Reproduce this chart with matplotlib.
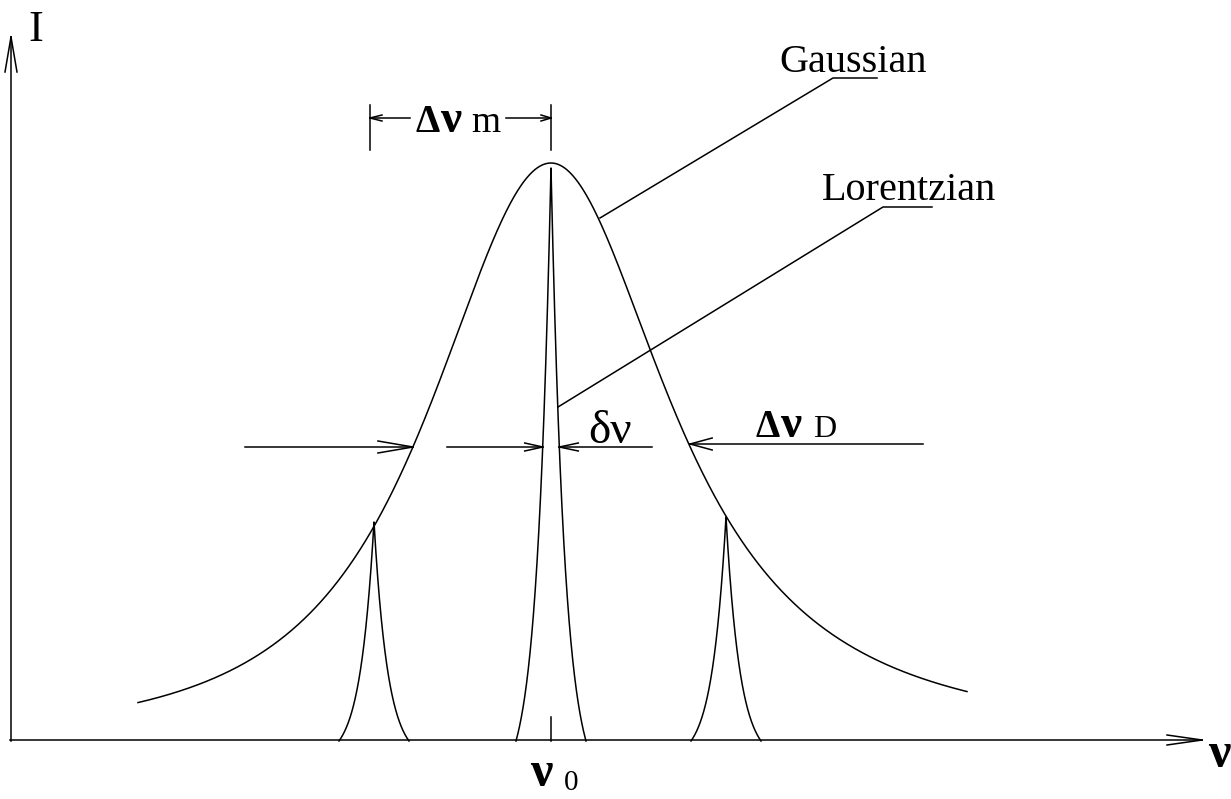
"""Line-shape sketch: Gaussian envelope with Lorentzian modes."""

import matplotlib

matplotlib.use("Agg")
import matplotlib.pyplot as plt
import numpy as np

# Frequency offsets from nu0 and heights (arbitrary units, baseline = 0)
envelope_peak = 578.0
envelope_span = (-413.0, 416.0)
# asymmetric Pearson-VII style flanks: (half-width scale, exponent)
envelope_left = (183.0, 1.5)
envelope_right = (160.0, 1.2)

mode_offsets = [-177.0, 0.0, 175.0]
mode_heights = [219.0, 573.0, 224.0]
mode_decay = 14.0
mode_foot = 35.0

half_level = 294.0
mode_spacing_ticks = [-181.0, 0.0]

SERIF = ["Liberation Serif", "DejaVu Serif"]
LW = 1.1


def envelope(x):
    g_l, m_l = envelope_left
    g_r, m_r = envelope_right
    left = (1 + (x / g_l) ** 2) ** -m_l
    right = (1 + (x / g_r) ** 2) ** -m_r
    return envelope_peak * np.where(x < 0, left, right)


def mode_profile(x, height):
    # cusp-shaped line, pulled down so it ends on the baseline
    core = np.exp(-np.abs(x) / mode_decay)
    edge = np.exp(-mode_foot / mode_decay)
    return height * (core - edge) / (1 - edge)


def open_arrow(ax, tail, tip, barb, spread):
    (x0, y0), (x1, y1) = tail, tip
    ax.plot([x0, x1], [y0, y1], color="black", lw=LW)
    d = np.array([x1 - x0, y1 - y0], dtype=float)
    d /= np.hypot(*d)
    n = np.array([-d[1], d[0]])
    for s in (1, -1):
        bx, by = np.array([x1, y1]) - d * barb + n * spread * s
        ax.plot([bx, x1], [by, y1], color="black", lw=LW)


def crossing(func, level, lo, hi):
    xs = np.linspace(lo, hi, 20001)
    idx = np.flatnonzero(func(xs) >= level)
    return xs[idx[0]], xs[idx[-1]]


def label(x, y, s, size, bold=False, ha="left"):
    ax.text(x, y, s, fontsize=size, family=SERIF, ha=ha, va="baseline",
            fontweight="bold" if bold else "normal")


fig = plt.figure(figsize=(12.31, 7.99), dpi=100)
ax = fig.add_axes([0, 0, 1, 1])
ax.set_xlim(-551, 680)
ax.set_ylim(-58, 741)
ax.axis("off")

# axes with open arrowheads
open_arrow(ax, (-541, 1), (651, 1), 35, 5)
open_arrow(ax, (-540, 0), (-540, 704), 35, 6)

# envelope
xe = np.linspace(*envelope_span, 1200)
ax.plot(xe, envelope(xe), color="black", lw=LW)

# longitudinal modes
for x0, h in zip(mode_offsets, mode_heights):
    xm = np.linspace(-mode_foot, mode_foot, 1401)
    ax.plot(x0 + xm, mode_profile(xm, h), color="black", lw=LW)

# nu0 tick
ax.plot([0, 0], [0, 24], color="black", lw=LW)

# mode spacing dimension
for xt in mode_spacing_ticks:
    ax.plot([xt, xt], [591, 636], color="black", lw=LW)
open_arrow(ax, (-141, 623), (mode_spacing_ticks[0], 623), 12, 3)
open_arrow(ax, (-45, 623), (mode_spacing_ticks[1], 623), 10, 3)
label(-136, 609, "Δ", 28, bold=True)
label(-111, 609, "ν", 34, bold=True)
label(-80, 609, "m", 27)

# half-maximum widths
env_l, env_r = crossing(envelope, half_level, *envelope_span)
pk_l, pk_r = crossing(lambda x: mode_profile(x, mode_heights[1]), half_level,
                      -mode_foot, mode_foot)
open_arrow(ax, (-306, half_level), (env_l, half_level), 35, 6)
open_arrow(ax, (-104, half_level), (pk_l, half_level), 18, 4)
open_arrow(ax, (101, half_level), (pk_r, half_level), 19, 4)
open_arrow(ax, (372, half_level + 3), (env_r, half_level + 3), 22, 6)

label(37, 298, "δν", 34)
label(204, 304, "Δ", 28, bold=True)
label(229, 304, "ν", 34, bold=True)
label(262, 304, "D", 23)

# leaders
ax.plot([49, 282, 326], [523, 663, 663], color="black", lw=LW)
ax.plot([7, 332, 381], [334, 534, 534], color="black", lw=LW)
label(302, 669, "Gaussian", 29, ha="center")
label(358, 541, "Lorentzian", 29, ha="center")

# axis labels
label(-515, 700, "I", 32, ha="center")
label(679, -26, "ν", 36, bold=True, ha="right")
label(-10, -45, "ν", 36, bold=True, ha="center")
label(20, -49, "0", 21, ha="center")

fig.savefig("out.png", dpi=100)
